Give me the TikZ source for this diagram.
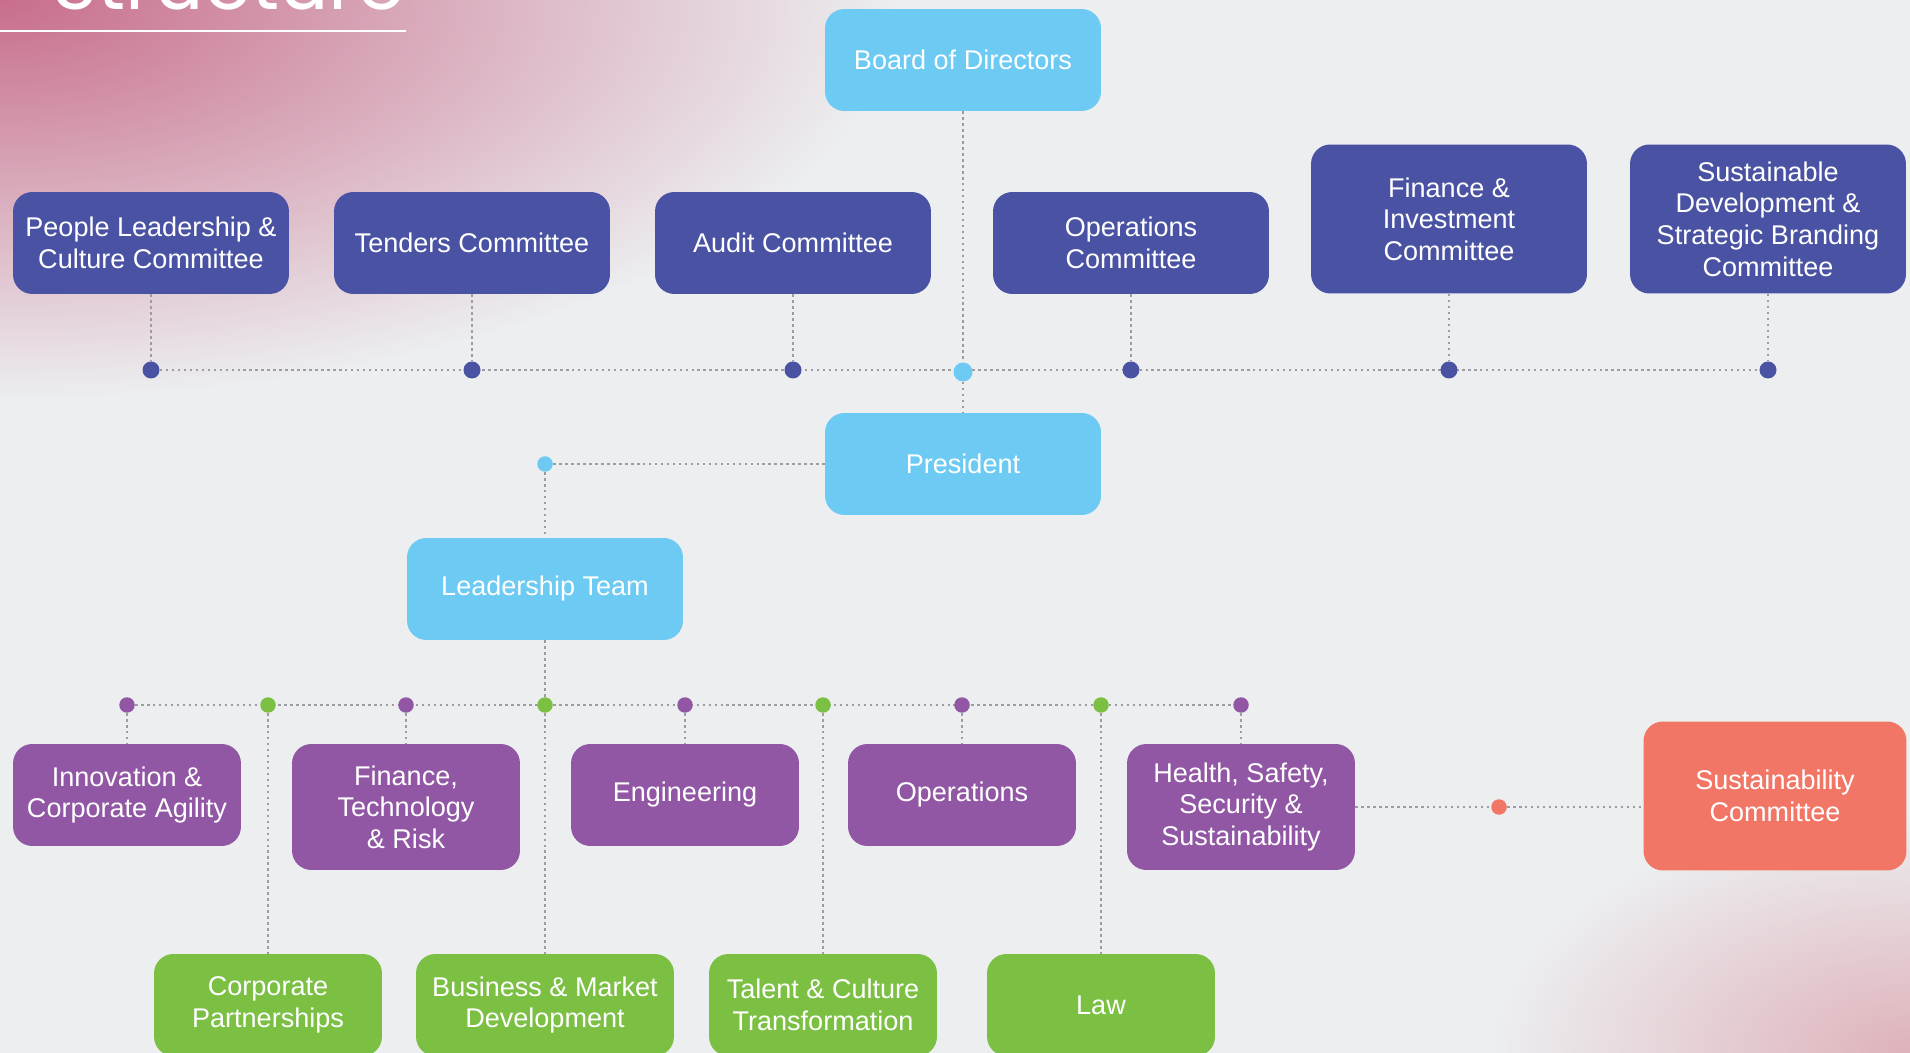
\documentclass[tikz,border=0pt]{standalone}
\usepackage{fontspec}
\setmainfont{Liberation Sans}
\newfontfamily\titlefont{Poppins}
\usepackage{xcolor}
\usetikzlibrary{positioning, calc}
\definecolor{skyblue}{RGB}{108, 202, 243}
\definecolor{indigo}{RGB}{ 74,  82, 163}
\definecolor{plum}{RGB}{145,  87, 165}
\definecolor{leafgreen}{RGB}{123, 192,  67}
\definecolor{coral}{RGB}{241, 118, 102}
\definecolor{papergray}{RGB}{236, 238, 240}
\definecolor{dotgray}{RGB}{155, 157, 162}
\definecolor{dustypink}{RGB}{200, 110, 140}
\definecolor{blushpink}{RGB}{222, 178, 186}
\pgfdeclarelayer{paper}
\pgfdeclarelayer{wires}
\pgfsetlayers{paper,wires,main}

\begin{document}
\begin{tikzpicture}[x=0.02cm, y=-0.02cm,
  box/.style={rounded corners=11pt, text=white, align=center, inner sep=2pt,
              minimum width=5.52cm, minimum height=2.04cm,
              font=\fontsize{15.4}{18}\selectfont},
  top/.style={box, fill=skyblue},
  cmte/.style={box, fill=indigo},
  tallcmte/.style={cmte, minimum height=2.98cm},
  dept/.style={box, fill=plum, minimum width=4.56cm},
  talldept/.style={dept, minimum height=2.52cm},
  unit/.style={box, fill=leafgreen, minimum width=4.56cm},
  hub/.style={circle, inner sep=0pt, minimum size=0.34cm},
  subhub/.style={hub, minimum size=0.31cm},
  link/.style={draw=dotgray, line width=1.4pt, dash pattern=on 1.4pt off 2pt}
]
  \useasboundingbox (0,0) rectangle (1910,1053);

  \begin{pgfonlayer}{paper}
    \fill[papergray] (0,0) rectangle (1910,1053);
    \begin{scope}
      \clip (0,0) rectangle (1910,1053);
      \shade[inner color=dustypink, outer color=papergray] (0,0) ellipse [x radius=900, y radius=400];
      \shade[inner color=blushpink, outer color=papergray] (1910,1053) ellipse [x radius=420, y radius=240];
    \end{scope}
  \end{pgfonlayer}

  \node[anchor=base west, inner sep=0pt, text=white,
        font=\titlefont\fontsize{44}{44}\selectfont] (title) at (52,10) {Structure};
  \coordinate (rule-l) at (0,31);
  \coordinate (rule-r) at (406,31);
  \draw[white, line width=1.1pt] (rule-l) -- (rule-r);

  % board and committees
  \node[top] (bod) at (963,60) {Board of Directors};
  \node[cmte] (plc) at (151,243) {People Leadership \&\\Culture Committee};
  \node[cmte] (tc) at (472,243) {Tenders Committee};
  \node[cmte] (ac) at (793,243) {Audit Committee};
  \node[cmte] (oc) at (1131,243) {Operations\\Committee};
  \node[tallcmte] (fic) at (1449,219) {Finance \&\\Investment\\Committee};
  \node[tallcmte] (sdsb) at (1768,219) {Sustainable\\Development \&\\Strategic Branding\\Committee};

  \foreach \c/\x in {plc/151, tc/472, ac/793, oc/1131, fic/1449, sdsb/1768}
    \node[hub, fill=indigo] (\c-dot) at (\x,370) {};
  \node[hub, fill=skyblue, minimum size=0.38cm] (bod-dot) at (963,372) {};

  % president and leadership
  \node[top] (pres) at (963,464) {President};
  \node[subhub, fill=skyblue] (pres-dot) at (545,464) {};
  \node[top] (lt) at (545,589) {Leadership Team};

  % departments
  \node[dept] (ica) at (127,795) {Innovation \&\\Corporate Agility};
  \node[talldept] (ftr) at (406,807) {Finance,\\Technology\\\& Risk};
  \node[dept] (eng) at (685,795) {Engineering};
  \node[dept] (ops) at (962,795) {Operations};
  \node[talldept] (hsss) at (1241,807) {Health, Safety,\\Security \&\\Sustainability};

  \node[unit] (cp) at (268,1005) {Corporate\\Partnerships};
  \node[unit, minimum width=5.16cm] (bmd) at (545,1005) {Business \& Market\\Development};
  \node[unit] (tct) at (823,1005) {Talent \& Culture\\Transformation};
  \node[unit] (law) at (1101,1005) {Law};

  \foreach \d/\x in {ica/127, ftr/406, eng/685, ops/962, hsss/1241}
    \node[subhub, fill=plum] (\d-dot) at (\x,705) {};
  \foreach \u/\x in {cp/268, bmd/545, tct/823, law/1101}
    \node[subhub, fill=leafgreen] (\u-dot) at (\x,705) {};

  \node[box, fill=coral, minimum width=5.26cm, minimum height=2.98cm] (sc) at (1775,796) {Sustainability\\Committee};
  \node[subhub, fill=coral] (sc-dot) at (1499,807) {};

  \begin{pgfonlayer}{wires}
    \draw[link] (bod) -- (bod-dot) -- (pres);
    \draw[link] (plc-dot) -- (sdsb-dot);
    \foreach \c in {plc, tc, ac, oc, fic, sdsb}
      \draw[link] (\c) -- (\c-dot);
    \draw[link] (pres) -- (pres-dot) -- (lt);
    \draw[link] (lt) -- (bmd-dot);
    \draw[link] (ica-dot) -- (hsss-dot);
    \foreach \d in {ica, ftr, eng, ops, hsss, cp, bmd, tct, law}
      \draw[link] (\d-dot) -- (\d);
    \draw[link] (hsss) -- (sc-dot) -- (sc-dot -| sc.west);
  \end{pgfonlayer}
\end{tikzpicture}
\end{document}
